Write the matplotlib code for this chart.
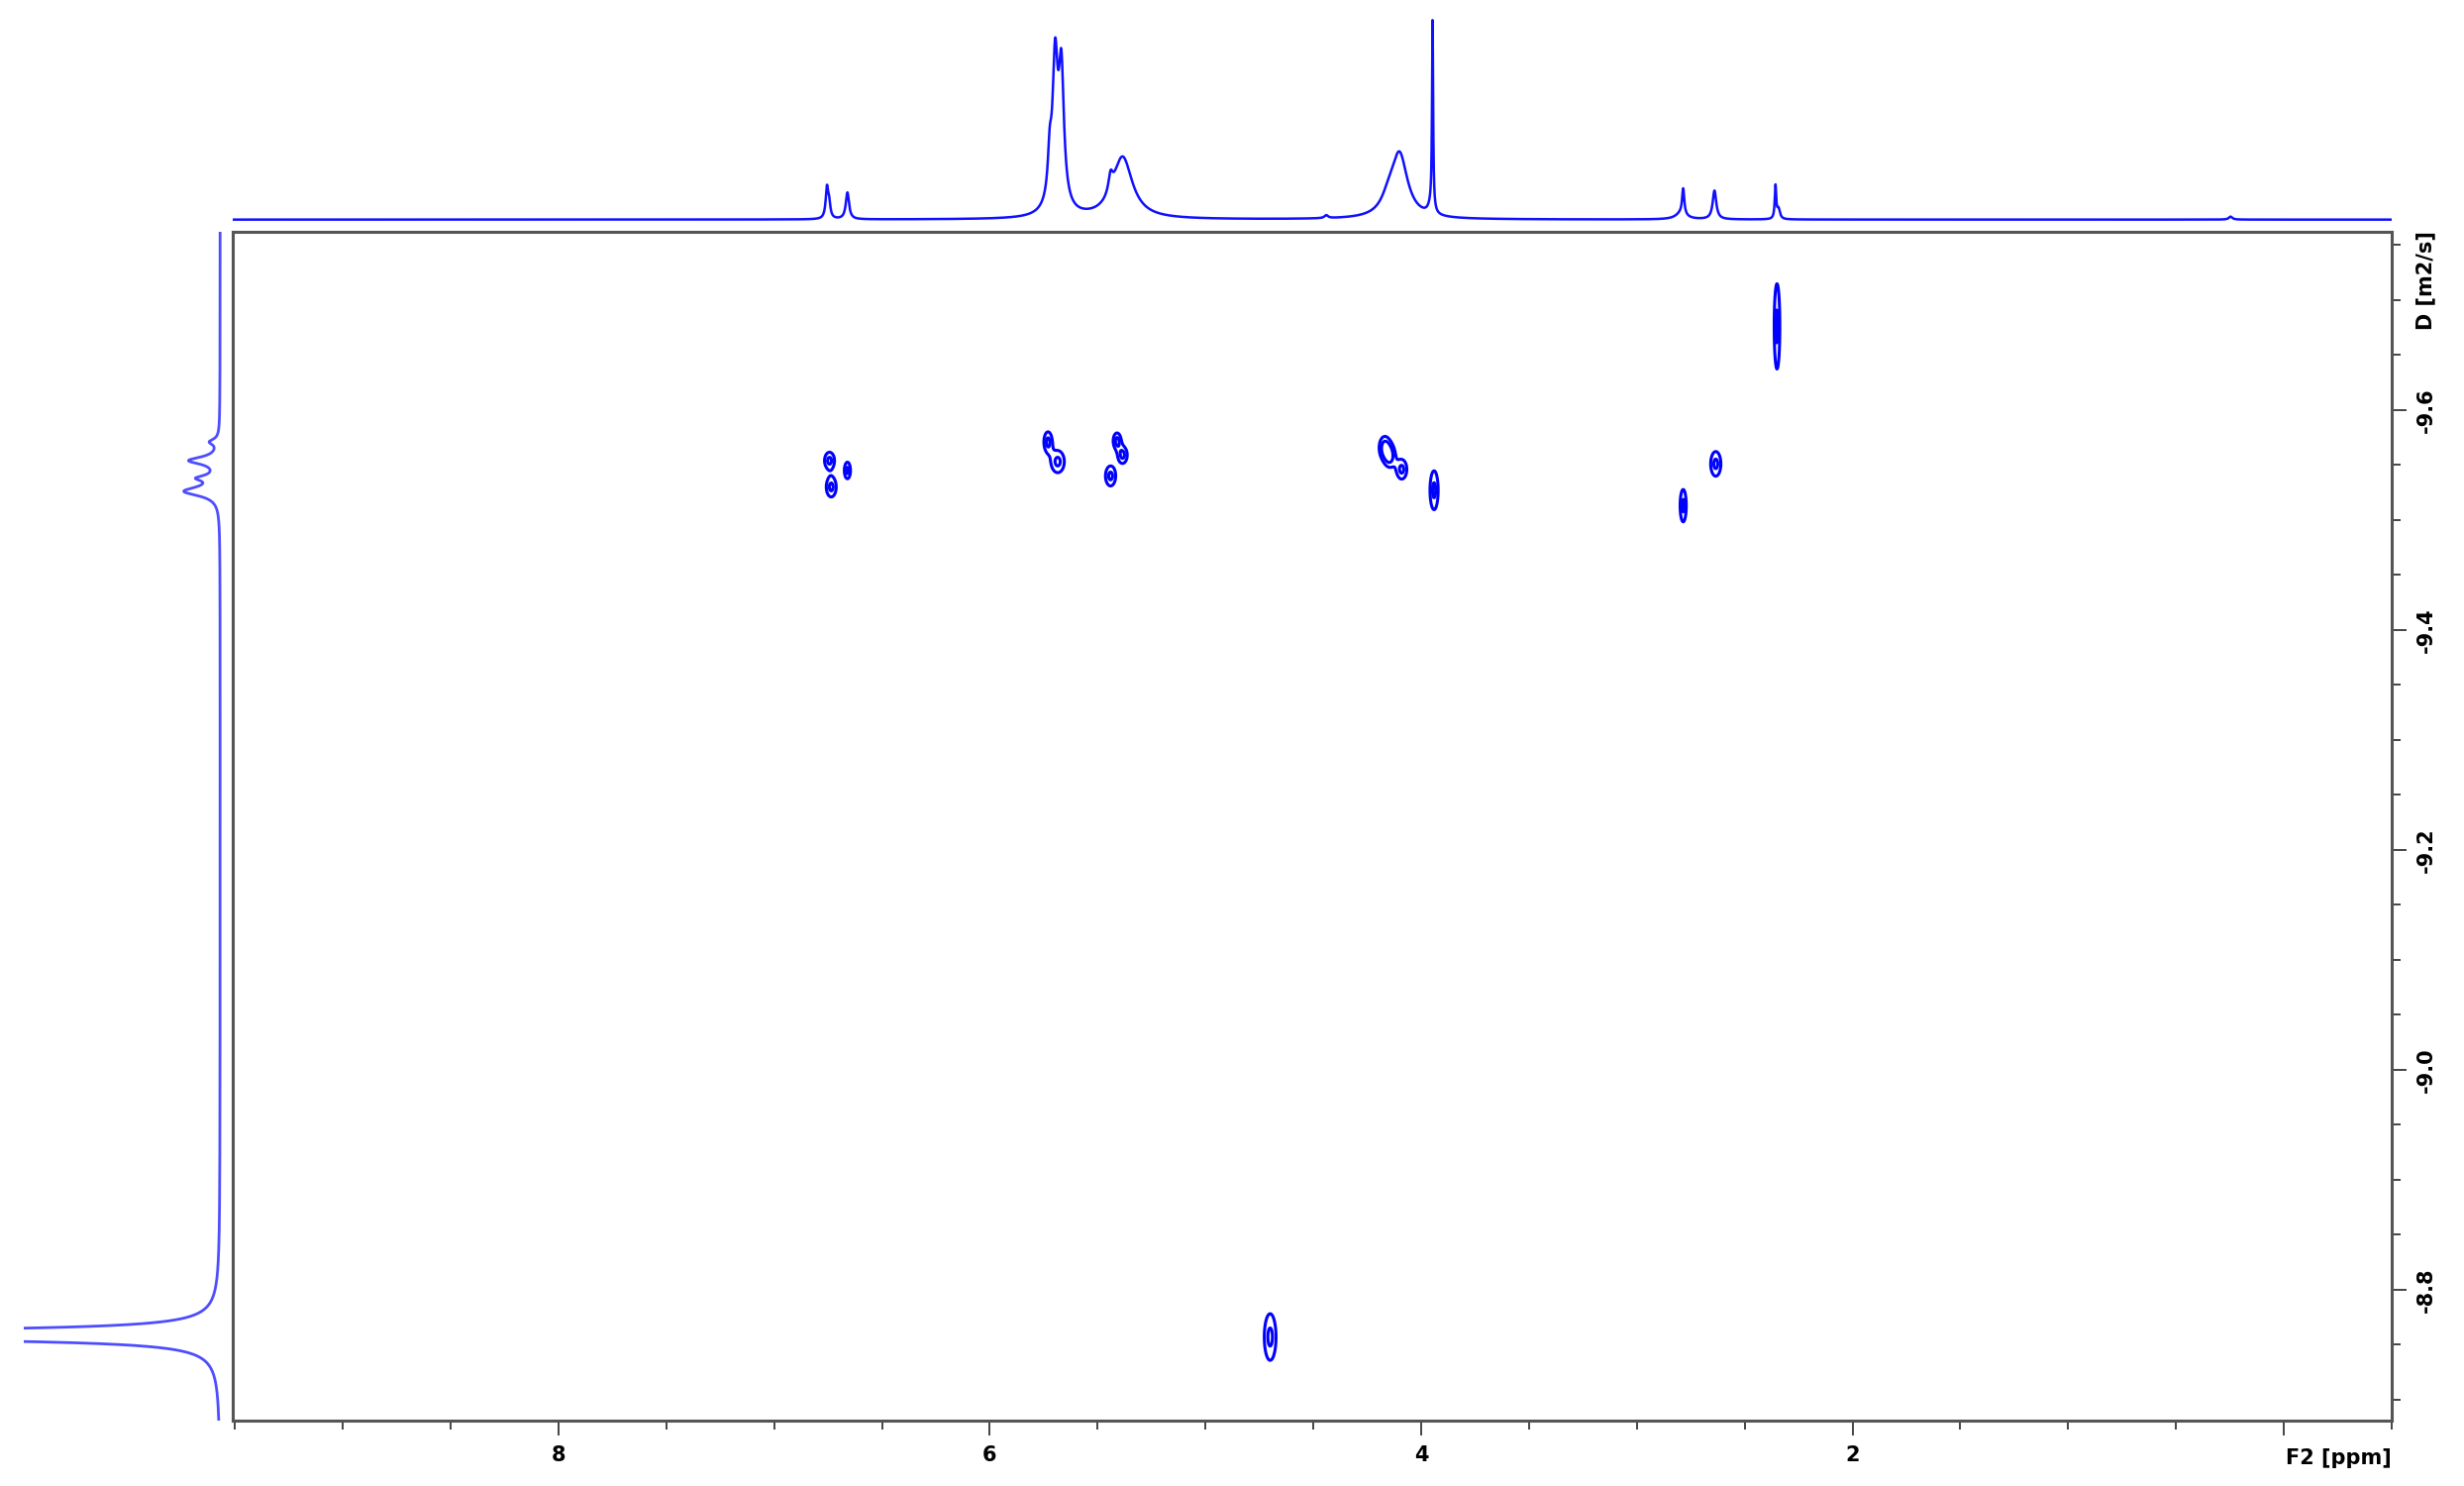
import numpy as np
import matplotlib
matplotlib.use("Agg")
import matplotlib.pyplot as plt
from matplotlib.ticker import MultipleLocator, FixedLocator

# ---------------- data ----------------
# 1D proton projection (top): peak position [ppm], height [a.u.], half width [ppm]
h1_pos = [6.755, 6.745, 6.660, 5.722, 5.697, 5.668, 5.690, 5.440, 5.384, 4.440,
          4.150, 4.100, 3.947, 3.955, 2.785, 2.795, 2.640, 2.357, 2.343, 0.247]
h1_height = [30, 14, 27, 40, 128, 126, 25, 18, 62, 3,
             14, 63, 190, 8, 26, 6, 29, 33, 10, 3]
h1_width = [0.007, 0.007, 0.009, 0.010, 0.014, 0.014, 0.035, 0.012, 0.055, 0.010,
            0.040, 0.045, 0.003, 0.015, 0.006, 0.030, 0.010, 0.004, 0.008, 0.010]

# diffusion projection (left): log D position, intensity, half width
d_pos = [-9.571, -9.554, -9.538, -9.526, -8.759]
d_height = [9, 30, 18, 35, 1200]
d_width = [0.003, 0.004, 0.003, 0.005, 0.0027]

# 2D DOSY cross peaks: ppm, log D, sigma ppm, sigma log D
cp_ppm = [6.743, 6.735, 6.660, 5.730, 5.685, 5.410, 5.384, 5.440,
          4.170, 4.145, 4.090, 3.940, 2.350, 2.634, 2.785, 4.700]
cp_D = [-9.554, -9.530, -9.545, -9.571, -9.553, -9.572, -9.559, -9.540,
        -9.566, -9.558, -9.546, -9.527, -9.676, -9.551, -9.513, -8.757]
cp_sppm = [0.0195, 0.0195, 0.012, 0.016, 0.026, 0.015, 0.018, 0.020,
           0.020, 0.020, 0.020, 0.016, 0.011, 0.020, 0.012, 0.023]
cp_sD = [0.0064, 0.0077, 0.0064, 0.0077, 0.0085, 0.0060, 0.0064, 0.0077,
         0.0080, 0.0080, 0.0075, 0.0150, 0.0330, 0.0095, 0.0125, 0.0180]

x_major = [8, 6, 4, 2, 0]
x_labels = ["8", "6", "4", "2", ""]
y_major = [-9.6, -9.4, -9.2, -9.0, -8.8]
y_labels = ["-9.6", "-9.4", "-9.2", "-9.0", "-8.8"]

XLIM = (9.51, -0.50)
YLIM = (-8.681, -9.762)

# ---------------- figure ----------------
W, H = 2488, 1500
plt.rcParams["font.family"] = ["DejaVu Sans"]
plt.rcParams["font.weight"] = "bold"
fig = plt.figure(figsize=(W / 100, H / 100), dpi=100)


def px_rect(l, t, r, b):
    return [l / W, 1 - b / H, (r - l) / W, (b - t) / H]


ax = fig.add_axes(px_rect(235, 234, 2415, 1434))
axt = fig.add_axes(px_rect(235, 10, 2415, 226))
axl = fig.add_axes(px_rect(24, 234, 225, 1434))

# ---- 2D contour ----
gx = np.linspace(XLIM[1], XLIM[0], 3600)
gy = np.linspace(YLIM[1], YLIM[0], 1200)
Z = np.zeros((gy.size, gx.size))
for p, d, sp, sd in zip(cp_ppm, cp_D, cp_sppm, cp_sD):
    Z += np.exp(-0.5 * ((gy - d) / sd) ** 2)[:, None] * np.exp(-0.5 * ((gx - p) / sp) ** 2)[None, :]
ax.contour(gx, gy, Z, levels=[0.5, 0.9], colors="#0000ff", linewidths=2.2)

ax.set_xlim(*XLIM)
ax.set_ylim(*YLIM)
for s in ax.spines.values():
    s.set_color("#555555")
    s.set_linewidth(2.2)

ax.xaxis.set_major_locator(FixedLocator(x_major))
ax.set_xticklabels(x_labels, fontsize=15, fontweight="bold")
ax.xaxis.set_minor_locator(MultipleLocator(0.5))
ax.yaxis.tick_right()
ax.yaxis.set_major_locator(FixedLocator(y_major))
ax.set_yticklabels(y_labels, fontsize=15, fontweight="bold", rotation=90, va="center", ha="left")
ax.yaxis.set_minor_locator(MultipleLocator(0.05))
ax.tick_params(axis="both", which="major", direction="out", length=11, width=1.4,
               color="#444444", pad=7)
ax.tick_params(axis="both", which="minor", direction="out", length=6.5, width=1.4,
               color="#444444")
ax.tick_params(axis="x", top=False, which="both")
ax.tick_params(axis="y", left=False, right=True, which="both", labelleft=False, labelright=True)

fig.text(2361 / W, 1 - 1472 / H, "F2 [ppm]", ha="center", va="center", fontsize=15, fontweight="bold")
fig.text(2449 / W, 1 - 283 / H, "D [m2/s]", ha="center", va="center", rotation=90,
         fontsize=15, fontweight="bold")

# ---- top 1D spectrum ----
sx = np.linspace(XLIM[0], XLIM[1], 20000)
spec = np.zeros_like(sx)
for p, h, w in zip(h1_pos, h1_height, h1_width):
    spec += h * w ** 2 / ((sx - p) ** 2 + w ** 2)
axt.plot(sx, spec, color="#1010ff", lw=1.8)
axt.set_xlim(*XLIM)
axt.set_ylim(-4.3, 211.7)
axt.axis("off")

# ---- left diffusion projection ----
dy = np.linspace(YLIM[1], YLIM[0], 8000)
proj = np.zeros_like(dy)
for p, h, w in zip(d_pos, d_height, d_width):
    proj += h * w ** 2 / ((dy - p) ** 2 + w ** 2)
axl.plot(proj, dy, color="#4d4dff", lw=2.0)
axl.set_xlim(198.3, -2.7)
axl.set_ylim(*YLIM)
axl.axis("off")

fig.savefig("out.png", dpi=100)
